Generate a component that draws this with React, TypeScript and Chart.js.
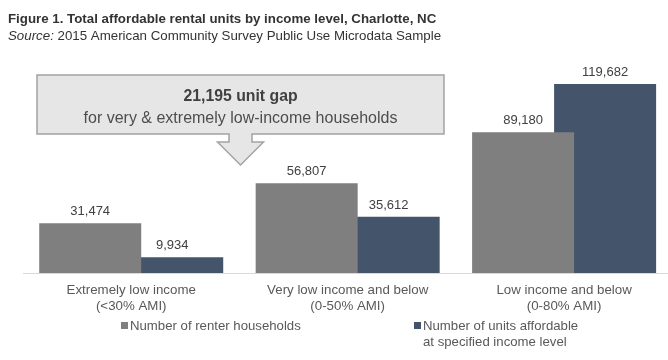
import React, { useEffect, useRef } from "react";
import { Chart, registerables } from "chart.js";

Chart.register(...registerables);

// ---- data ----
const categories: string[][] = [
  ["Extremely low income", "(<30% AMI)"],
  ["Very low income and below", "(0-50% AMI)"],
  ["Low income and below", "(0-80% AMI)"],
];
const categoryPositions = [0, 1, 2];
const renterHouseholds = [31474, 56807, 89180];
const affordableUnits = [9934, 35612, 119682];
const seriesNames = [
  "Number of renter households",
  "Number of units affordable at specified income level",
];
const legendLines: string[][] = [
  ["Number of renter households"],
  ["Number of units affordable", "at specified income level"],
];
const titleText = "Figure 1. Total affordable rental units by income level, Charlotte, NC";
const sourceLabel = "Source:";
const sourceText = " 2015 American Community Survey Public Use Microdata Sample";
const calloutTitle = "21,195 unit gap";
const calloutText = "for very & extremely low-income households";

// ---- styles ----
const FONT = "'Liberation Sans', Arial, Helvetica, sans-serif";
const GRAY = "#7f7f7f";
const BLUE = "#44546a";
const TEXT = "#404040";
const LABEL = "#595959";

const overlayPlugin = {
  id: "overlay",
  afterDraw(chart: any) {
    const ctx = chart.ctx as CanvasRenderingContext2D;
    ctx.save();

    // title
    ctx.textAlign = "left";
    ctx.textBaseline = "alphabetic";
    ctx.fillStyle = "#333333";
    ctx.font = `bold 13.3px ${FONT}`;
    ctx.fillText(titleText, 8, 23);
    ctx.font = `italic 13.3px ${FONT}`;
    ctx.fillText(sourceLabel, 8, 40);
    const sw = ctx.measureText(sourceLabel).width;
    ctx.font = `13.3px ${FONT}`;
    ctx.fillText(sourceText, 8 + sw, 40);

    // callout box with down arrow
    const L = 37, R = 444, T = 75, B = 134;
    const cx = (L + R) / 2;
    ctx.beginPath();
    ctx.moveTo(L, T);
    ctx.lineTo(R, T);
    ctx.lineTo(R, B);
    ctx.lineTo(cx + 11.5, B);
    ctx.lineTo(cx + 11.5, 142);
    ctx.lineTo(cx + 23, 142);
    ctx.lineTo(cx, 165);
    ctx.lineTo(cx - 23, 142);
    ctx.lineTo(cx - 11.5, 142);
    ctx.lineTo(cx - 11.5, B);
    ctx.lineTo(L, B);
    ctx.closePath();
    ctx.fillStyle = "#e6e6e6";
    ctx.fill();
    ctx.lineWidth = 1.5;
    ctx.strokeStyle = "#a3a3a3";
    ctx.stroke();

    ctx.textAlign = "center";
    ctx.fillStyle = TEXT;
    ctx.font = `bold 15.8px ${FONT}`;
    ctx.fillText(calloutTitle, cx, 101);
    ctx.fillStyle = "#4d4d4d";
    ctx.font = `16px ${FONT}`;
    ctx.fillText(calloutText, cx, 123);

    // data labels
    ctx.font = `13px ${FONT}`;
    ctx.fillStyle = TEXT;
    chart.data.datasets.forEach((ds: any, i: number) => {
      const meta = chart.getDatasetMeta(i);
      meta.data.forEach((el: any, j: number) => {
        const v = ds.data[j].y as number;
        ctx.fillText(v.toLocaleString("en-US"), el.x, el.y - 8);
      });
    });

    // legend
    const legendX = [121, 414];
    const baseY = 330;
    ctx.textAlign = "left";
    ctx.font = `13.2px ${FONT}`;
    chart.data.datasets.forEach((ds: any, i: number) => {
      const x = legendX[i];
      ctx.fillStyle = ds.backgroundColor;
      ctx.fillRect(x, baseY - 8, 7, 7);
      ctx.fillStyle = LABEL;
      legendLines[i].forEach((line, k) => {
        ctx.fillText(line, x + 9, baseY + k * 16);
      });
    });

    ctx.restore();
  },
};

export default function App() {
  const ref = useRef<HTMLCanvasElement | null>(null);

  useEffect(() => {
    if (!ref.current) return;
    const chart = new Chart(ref.current, {
      type: "bar",
      data: {
        datasets: [
          {
            label: seriesNames[0],
            data: categoryPositions.map((x, i) => ({ x, y: renterHouseholds[i] })),
            backgroundColor: GRAY,
            categoryPercentage: 0.7577,
            barPercentage: 1.244,
          },
          {
            label: seriesNames[1],
            data: categoryPositions.map((x, i) => ({ x, y: affordableUnits[i] })),
            backgroundColor: BLUE,
            categoryPercentage: 0.7577,
            barPercentage: 1.244,
          },
        ] as any,
      },
      options: {
        animation: false,
        responsive: false,
        maintainAspectRatio: false,
        layout: { padding: { left: 23, right: 0, top: 52, bottom: 0 } },
        plugins: {
          legend: { display: false },
          tooltip: { enabled: false },
          title: { display: false },
        },
        scales: {
          x: {
            type: "linear",
            offset: false,
            min: -0.5,
            max: 2.48,
            grid: { display: false, drawTicks: false },
            border: { display: true, color: "#d9d9d9", width: 1 },
            afterBuildTicks: (scale: any) => {
              scale.ticks = categoryPositions.map((v) => ({ value: v }));
            },
            afterFit: (scale: any) => {
              scale.height = 87;
            },
            ticks: {
              autoSkip: false,
              maxRotation: 0,
              padding: 10,
              color: LABEL,
              font: { family: FONT, size: 13.3, lineHeight: 15.5 / 13.3 },
              callback: (v: any) => categories[Math.round(Number(v))] ?? "",
            },
          },
          y: {
            display: false,
            min: 0,
            max: 140000,
          },
        },
      } as any,
      plugins: [overlayPlugin],
    });
    return () => chart.destroy();
  }, []);

  return (
    <div style={{ position: "absolute", left: 0, top: 0, width: 668, height: 360, background: "#fff" }}>
      <canvas ref={ref} width={668} height={360} style={{ width: 668, height: 360, display: "block" }} />
    </div>
  );
}
